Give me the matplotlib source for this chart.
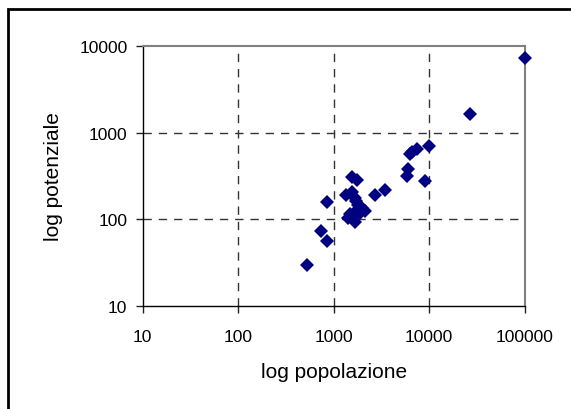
import matplotlib
matplotlib.use("Agg")
import matplotlib.pyplot as plt
from matplotlib.patches import Rectangle
from matplotlib.ticker import FixedLocator, NullLocator

plt.rcParams["font.family"] = ["Liberation Sans", "DejaVu Sans"]

# population vs potential, one point per town
popolazione = [100000, 27000, 10000, 7400, 6600, 6300, 6000, 5800, 9000, 3400,
               2700, 1560, 1750, 1350, 1550, 1650, 840, 730, 840, 520,
               1400, 1650, 1900, 2100, 1800, 1700, 1600, 1480, 1750, 2000]
potenziale = [7300, 1650, 710, 640, 600, 565, 380, 320, 275, 220,
              190, 305, 285, 190, 205, 175, 160, 73, 56, 29.5,
              105, 93, 120, 125, 145, 165, 108, 115, 130, 135]

x_ticks = [10, 100, 1000, 10000, 100000]
y_ticks = [10, 100, 1000, 10000]

fig = plt.figure(figsize=(5.71, 4.10), dpi=100)
ax = fig.add_axes([0.25, 0.2505, 0.669, 0.6355])

ax.set_xscale("log")
ax.set_yscale("log")
ax.set_xlim(10, 100000)
ax.set_ylim(10, 10000)

# dashed decade grid, kept off the frame edges
for xv in x_ticks[1:-1]:
    ax.axvline(xv, color="#333333", linewidth=1, linestyle=(0, (6, 5)), zorder=1)
for yv in y_ticks[1:-1]:
    ax.axhline(yv, color="#333333", linewidth=1, linestyle=(0, (6, 5)), zorder=1)

ax.plot(popolazione, potenziale, linestyle="none", marker="D", markersize=7.5,
        color="#000080", markeredgewidth=0, zorder=3, clip_on=False)

ax.xaxis.set_major_locator(FixedLocator(x_ticks))
ax.yaxis.set_major_locator(FixedLocator(y_ticks))
ax.xaxis.set_minor_locator(NullLocator())
ax.yaxis.set_minor_locator(NullLocator())
ax.set_xticklabels([str(v) for v in x_ticks])
ax.set_yticklabels([str(v) for v in y_ticks])
ax.tick_params(direction="out", length=5, width=1, color="#222222",
               labelsize=12.5)
ax.tick_params(axis="x", pad=11)
ax.tick_params(axis="y", pad=6)

for side in ["left", "bottom"]:
    ax.spines[side].set_color("black")
    ax.spines[side].set_linewidth(1)
for side in ["top", "right"]:
    ax.spines[side].set_color("#808080")
    ax.spines[side].set_linewidth(1.5)

ax.set_xlabel("log popolazione", fontsize=15, labelpad=13)
ax.set_ylabel("log potenziale", fontsize=15, labelpad=12)

# outer chart border
fig.patches.append(Rectangle((8 / 571, -0.1), 1.1, (400 / 410) + 0.1,
                             transform=fig.transFigure, fill=False,
                             edgecolor="black", linewidth=2))

fig.savefig("out.png", dpi=100)
